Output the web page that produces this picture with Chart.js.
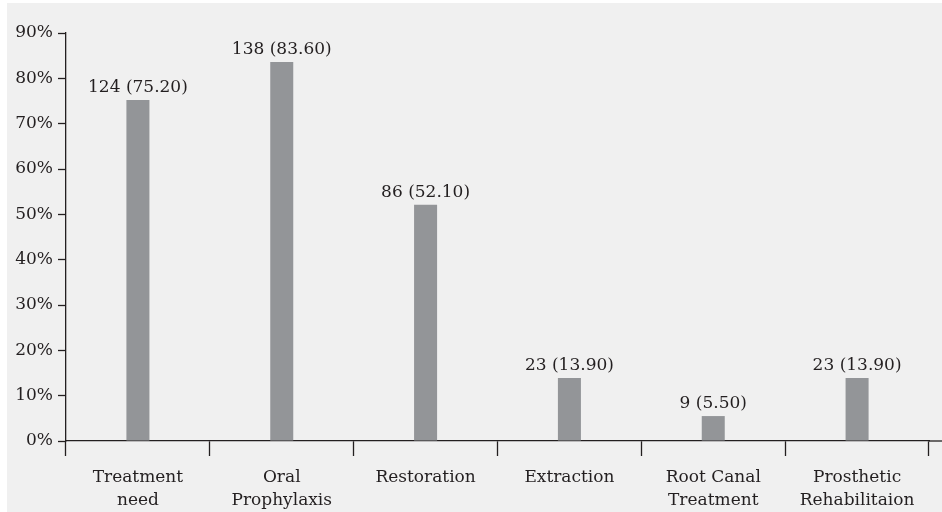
<!DOCTYPE html>
<html>
<head>
<meta charset="utf-8">
<script src="https://cdn.jsdelivr.net/npm/chart.js@4.4.1/dist/chart.umd.min.js"></script>
<style>
  html, body { margin: 0; padding: 0; background: #ffffff; }
  #wrap { width: 942px; height: 512px; position: relative; }
</style>
</head>
<body>
<div id="wrap"><canvas id="c" width="942" height="512"></canvas></div>
<script>
// Treatment needs: count of patients and share (%) for each category
const categories = [
  ['Treatment', 'need'],
  ['Oral', 'Prophylaxis'],
  ['Restoration'],
  ['Extraction'],
  ['Root Canal', 'Treatment'],
  ['Prosthetic', 'Rehabilitaion']
];
const counts = [124, 138, 86, 23, 9, 23];
const percents = [75.20, 83.60, 52.10, 13.90, 5.50, 13.90];
const yTicks = [0, 10, 20, 30, 40, 50, 60, 70, 80, 90];

const INK = '#231f20';
const FONT = 'DejaVu Serif';
const FONT_SIZE = 17;

// Light grey panel behind the whole chart
const panelBg = {
  id: 'panelBg',
  beforeDraw(chart) {
    const ctx = chart.ctx;
    ctx.save();
    ctx.fillStyle = '#f0f0f0';
    ctx.fillRect(7, 3, chart.width - 7, chart.height - 3);
    ctx.restore();
  }
};

// Baseline continues past the last category tick to the panel edge
const baselineRun = {
  id: 'baselineRun',
  afterDraw(chart) {
    const a = chart.chartArea;
    const ctx = chart.ctx;
    ctx.save();
    ctx.strokeStyle = INK;
    ctx.lineWidth = 1.3;
    ctx.beginPath();
    ctx.moveTo(a.right, a.bottom);
    ctx.lineTo(chart.width, a.bottom);
    ctx.stroke();
    ctx.restore();
  }
};

// "count (percent)" label above each bar
const valueLabels = {
  id: 'valueLabels',
  afterDatasetsDraw(chart) {
    const ctx = chart.ctx;
    const meta = chart.getDatasetMeta(0);
    ctx.save();
    ctx.fillStyle = INK;
    ctx.font = FONT_SIZE + 'px "' + FONT + '"';
    ctx.textAlign = 'center';
    ctx.textBaseline = 'bottom';
    meta.data.forEach((bar, i) => {
      const txt = counts[i] + ' (' + percents[i].toFixed(2) + ')';
      ctx.fillText(txt, bar.x, bar.y - 4);
    });
    ctx.restore();
  }
};

new Chart(document.getElementById('c'), {
  type: 'bar',
  data: {
    labels: categories,
    datasets: [{
      data: percents,
      backgroundColor: '#939598',
      borderWidth: 0,
      categoryPercentage: 1,
      barPercentage: 0.16
    }]
  },
  options: {
    responsive: false,
    animation: false,
    layout: { padding: { left: 7, top: 33, right: 13, bottom: 0 } },
    plugins: {
      legend: { display: false },
      tooltip: { enabled: false }
    },
    scales: {
      x: {
        offset: true,
        grid: {
          offset: true,
          drawOnChartArea: false,
          drawTicks: true,
          tickLength: 15,
          color: INK,
          tickWidth: 1.3
        },
        border: { display: true, color: INK, width: 1.3 },
        ticks: {
          color: INK,
          font: { family: FONT, size: FONT_SIZE, lineHeight: 1.35 },
          padding: 10,
          maxRotation: 0,
          autoSkip: false
        },
        afterFit(s) { s.height = 71; }
      },
      y: {
        min: 0,
        max: 90,
        afterBuildTicks(s) { s.ticks = yTicks.map(v => ({ value: v })); },
        grid: {
          drawOnChartArea: false,
          drawTicks: true,
          tickLength: 8,
          color: INK,
          tickWidth: 1.3
        },
        border: { display: true, color: INK, width: 1.3 },
        ticks: {
          color: INK,
          font: { family: FONT, size: FONT_SIZE },
          padding: 5,
          callback: v => v + '%'
        },
        afterFit(s) { s.width = 59; }
      }
    }
  },
  plugins: [panelBg, baselineRun, valueLabels]
});
</script>
</body>
</html>
